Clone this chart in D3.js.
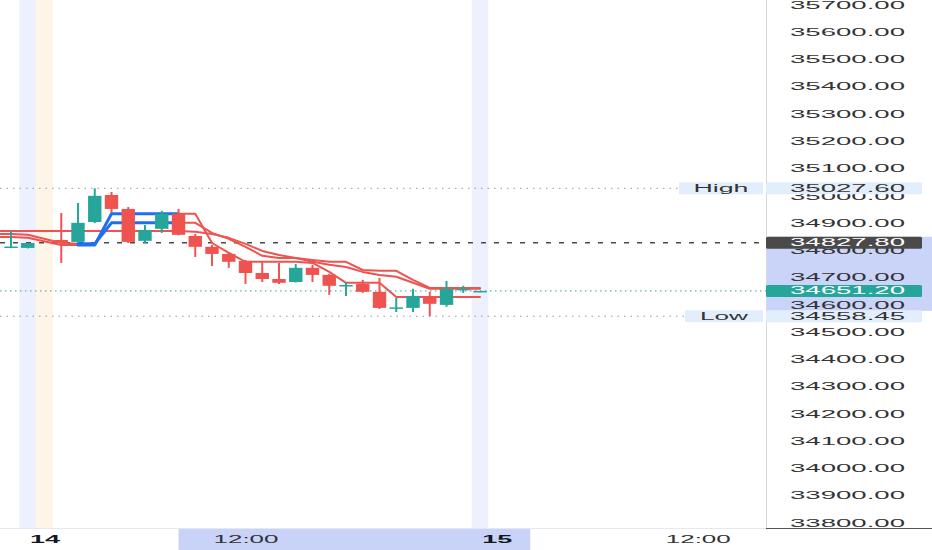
<!DOCTYPE html>
<html><head><meta charset="utf-8">
<script src="https://cdn.jsdelivr.net/npm/d3@7"></script>
<style>html,body{margin:0;padding:0;background:#fff;overflow:hidden}svg{display:block}</style>
</head><body><svg id="c" width="932" height="550"></svg>
<script>
// ---------- data ----------
const candleSlots = [0,1,3,4,5,6,7,8,9,10,11,12,13,14,15,16,17,18,19,20,21,22,23,24,25,26,27,28];
const opens  = [34811,34809,34838,34831,34904,35003,34952,34835,34879,34934,34853,34813,34787,34761,34717,34695,34684,34736,34710,34670,34677,34648,34587,34589,34629,34600,34655,34648];
const highs  = [34871,34827.5,34937,34974,35027.6,35014,34959,34893,34945,34952,34860,34820,34794,34765,34761,34754,34750,34747,34714,34684,34692,34699,34626,34659,34648,34688,34670,34651.2];
const lows   = [34809,34807,34754,34827,34900,34937,34827,34827,34864,34855,34776,34743,34736,34677,34684,34677,34682,34684,34637,34633,34644,34585,34574,34574,34558.45,34593,34644,34646];
const closes = [34814,34827,34827,34901,35000,34952,34831,34875,34934,34857,34813,34787,34758,34717,34695,34681,34736,34710,34670,34673,34648,34589,34591,34633,34604,34659,34659,34651.2];

const lineSlots = [-1,0,1,3,4,5,6,7,8,9,10,11,12,13,14,15,16,17,18,19,20,21,22,23,24,25,26,27,28];
const lineFast = [34849,34849,34846,34820,34820,34820,34934,34934,34934,34934,34934,34934,34827,34791,34758,34758,34758,34758,34754,34721,34681,34681,34681,34629,34629,34629,34629,34629,34629];
const lineMid  = [34860,34860,34857,34827,34824,34824,34901,34901,34901,34901,34901,34901,34864,34842,34813,34780,34772,34772,34758,34747,34739,34721,34710,34703,34681,34659,34659,34659,34659];
const lineSlow = [34871,34871,34871,34871,34871,34871,34871,34871,34871,34871,34871,34868,34860,34846,34824,34798,34783,34772,34765,34758,34758,34728,34725,34725,34692,34662,34662,34662,34662];
const bullSlotsFast = [4,5,6,7,8,9];
const bullSlotsMid  = [4,5,6,7,8,9];
const bullSlotsSlow = [];

const priceTicks = d3.range(33800, 35701, 100);
const timeTickSlots = [2, 14, 29, 41];
const timeTickLabels = ["14", "12:00", "15", "12:00"];
const dayTickLabels = ["14", "15"];

const bandSlots = [1, 2, 28];
const bandKinds = ["blue", "orange", "blue"];
const timeSelection = [10, 31];
const priceSelection = [34850, 34578];

const highPrice = 35027.6, lowPrice = 34558.45, prevClose = 34827.8, lastPrice = 34651.2;
const highLabel = "High", lowLabel = "Low";

// ---------- layout ----------
const W = 932, H = 550, plotRight = 766, axisTop = 528;
const svg = d3.select('#c');
const x = d3.scaleLinear().domain([0, 28]).range([11, 480]);
const step = x(1) - x(0);
const y = d3.scaleLinear().domain([35700, 33800]).range([5, 523]);
const FONT = "'Liberation Sans', Arial, sans-serif";
const RED = '#ef5350', TEAL = '#26a69a', BLUE = '#1f6ff0';

svg.append('rect').attr('width', W).attr('height', H).attr('fill', '#fff');

// session bands
svg.append('g').selectAll('rect').data(bandSlots).join('rect')
  .attr('x', d => x(d) - step / 2).attr('y', 0).attr('width', step).attr('height', axisTop)
  .attr('fill', (d, i) => bandKinds[i] === 'blue' ? '#edf1fd' : '#fdf6e6');

// axis selections
svg.append('rect').attr('x', x(timeSelection[0])).attr('y', axisTop)
  .attr('width', x(timeSelection[1]) - x(timeSelection[0])).attr('height', H - axisTop).attr('fill', '#c9d3f8');
svg.append('rect').attr('x', plotRight).attr('y', y(priceSelection[0]))
  .attr('width', W - plotRight).attr('height', y(priceSelection[1]) - y(priceSelection[0])).attr('fill', '#cad4f8');

// level lines
const lv = svg.append('g');
lv.append('line').attr('x1', 0).attr('x2', 679).attr('y1', y(highPrice)).attr('y2', y(highPrice))
  .attr('stroke', '#9598a1').attr('stroke-width', 1).attr('stroke-dasharray', '1.5,5');
lv.append('line').attr('x1', 0).attr('x2', 685).attr('y1', y(lowPrice)).attr('y2', y(lowPrice))
  .attr('stroke', '#9598a1').attr('stroke-width', 1).attr('stroke-dasharray', '1.5,5');
lv.append('line').attr('x1', 0).attr('x2', plotRight).attr('y1', y(prevClose)).attr('y2', y(prevClose))
  .attr('stroke', '#4a4a4a').attr('stroke-width', 1.5).attr('stroke-dasharray', '5,8');
lv.append('line').attr('x1', 0).attr('x2', plotRight).attr('y1', y(lastPrice)).attr('y2', y(lastPrice))
  .attr('stroke', TEAL).attr('stroke-width', 1).attr('stroke-dasharray', '1.5,3.5');

// indicator lines
function drawLine(vals, bullSlots) {
  const runs = []; let cur = null;
  for (let i = 0; i < lineSlots.length - 1; i++) {
    const t = bullSlots.includes(lineSlots[i]) ? 'up' : 'dn';
    if (!cur || cur.t !== t) { cur = { t, pts: [[lineSlots[i], vals[i]]] }; runs.push(cur); }
    cur.pts.push([lineSlots[i + 1], vals[i + 1]]);
  }
  const gen = d3.line().x(p => x(p[0])).y(p => y(p[1]));
  runs.forEach(r => svg.append('path').attr('d', gen(r.pts)).attr('fill', 'none')
    .attr('stroke', r.t === 'up' ? BLUE : RED).attr('stroke-width', r.t === 'up' ? 3 : 2)
    .attr('stroke-linejoin', 'round').attr('stroke-linecap', 'round'));
}
drawLine(lineSlow, bullSlotsSlow);
drawLine(lineMid, bullSlotsMid);
drawLine(lineFast, bullSlotsFast);

// candles
const candles = candleSlots.map((s, i) => ({ s, o: opens[i], h: highs[i], l: lows[i], c: closes[i] }));
const cg = svg.append('g').selectAll('g').data(candles).join('g');
cg.append('line').attr('x1', d => x(d.s)).attr('x2', d => x(d.s))
  .attr('y1', d => y(d.h)).attr('y2', d => y(d.l))
  .attr('stroke', d => d.c >= d.o ? TEAL : RED).attr('stroke-width', 2);
cg.append('rect').attr('x', d => x(d.s) - step * 0.4).attr('width', step * 0.8)
  .attr('y', d => y(Math.max(d.o, d.c)))
  .attr('height', d => Math.max(1.5, Math.abs(y(d.o) - y(d.c))))
  .attr('fill', d => d.c >= d.o ? TEAL : RED);

// axis borders
svg.append('line').attr('x1', 0).attr('x2', plotRight).attr('y1', axisTop + 0.5).attr('y2', axisTop + 0.5).attr('stroke', '#e6e8ee');
svg.append('line').attr('x1', plotRight + 0.5).attr('x2', plotRight + 0.5).attr('y1', 0).attr('y2', axisTop).attr('stroke', '#d6d8de');
svg.append('line').attr('x1', plotRight).attr('x2', W).attr('y1', axisTop + 0.5).attr('y2', axisTop + 0.5).attr('stroke', '#555');

// price axis
const ya = svg.append('g').attr('transform', `translate(${plotRight},0)`)
  .call(d3.axisRight(y).tickValues(priceTicks).tickFormat(d3.format('.2f')).tickSize(0).tickPadding(24));
ya.select('.domain').remove();
ya.selectAll('text').attr('font-family', FONT).attr('font-size', 10).attr('fill', '#333')
  .attr('textLength', 115).attr('lengthAdjust', 'spacingAndGlyphs');

// time axis
const xa = svg.append('g').attr('transform', `translate(0,${axisTop})`)
  .call(d3.axisBottom(x).tickValues(timeTickSlots).tickFormat((d, i) => timeTickLabels[i]).tickSize(0).tickPadding(7.5));
xa.select('.domain').remove();
xa.selectAll('text').attr('font-family', FONT).attr('font-size', 10)
  .attr('fill', (d, i) => dayTickLabels.includes(timeTickLabels[i]) ? '#131722' : '#333')
  .attr('font-weight', (d, i) => dayTickLabels.includes(timeTickLabels[i]) ? 'bold' : 'normal')
  .attr('textLength', (d, i) => timeTickLabels[i].length * 14 - (timeTickLabels[i].length > 2 ? 5 : -2))
  .attr('lengthAdjust', 'spacingAndGlyphs');

// price markers on axis
const markers = [
  { p: highPrice, fill: '#e3eefc', tc: '#333' },
  { p: prevClose, fill: '#4a4a4a', tc: '#fff' },
  { p: lastPrice, fill: TEAL, tc: '#fff' },
  { p: lowPrice, fill: '#e3eefc', tc: '#333' }
];
const mg = svg.append('g').selectAll('g').data(markers).join('g');
mg.append('rect').attr('x', plotRight).attr('y', d => y(d.p) - 6).attr('width', 156).attr('height', 12)
  .attr('rx', 1.5).attr('fill', d => d.fill);
mg.append('text').attr('x', 790).attr('y', d => y(d.p)).attr('dy', '0.35em')
  .attr('font-family', FONT).attr('font-size', 10).attr('fill', d => d.tc)
  .attr('textLength', 115).attr('lengthAdjust', 'spacingAndGlyphs')
  .text(d => d3.format('.2f')(d.p));

// High / Low tags
const tags = [
  { p: highPrice, t: highLabel, x0: 679, tl: 55 },
  { p: lowPrice, t: lowLabel, x0: 685, tl: 48 }
];
const tg = svg.append('g').selectAll('g').data(tags).join('g');
tg.append('rect').attr('x', d => d.x0).attr('y', d => y(d.p) - 6).attr('width', d => 763 - d.x0).attr('height', 12)
  .attr('fill', '#e3eefc');
tg.append('text').attr('x', d => (d.x0 + 763) / 2).attr('y', d => y(d.p)).attr('dy', '0.35em')
  .attr('text-anchor', 'middle').attr('font-family', FONT).attr('font-size', 10).attr('fill', '#333')
  .attr('textLength', d => d.tl).attr('lengthAdjust', 'spacingAndGlyphs').text(d => d.t);
</script></body></html>
